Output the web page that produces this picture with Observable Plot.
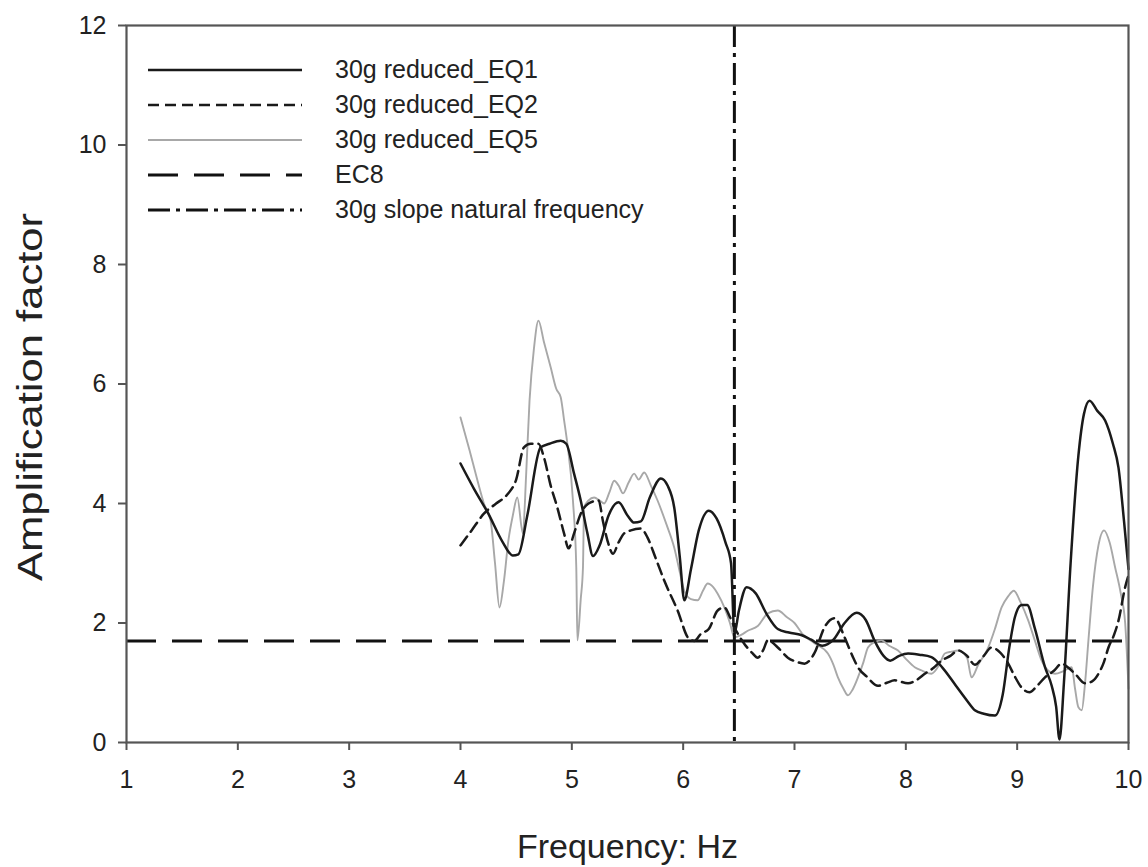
<!DOCTYPE html>
<html>
<head>
<meta charset="utf-8">
<script src="https://cdn.jsdelivr.net/npm/d3@7"></script>
<script src="https://cdn.jsdelivr.net/npm/@observablehq/plot@0.6"></script>
<style>
  html, body { margin: 0; padding: 0; background: #fff; }
  #wrap { position: relative; width: 1148px; height: 867px; }
  #wrap svg text { font-family: "Liberation Sans", Arial, sans-serif; }
  #legend { position: absolute; left: 148px; top: 52px; font-family: "Liberation Sans", Arial, sans-serif; font-size: 25px; color: #222; }
  #legend .row { display: flex; align-items: center; height: 35px; }
  #legend .row span { margin-left: 33px; }
</style>
</head>
<body>
<div id="wrap"></div>
<script>
const xTicks = [1, 2, 3, 4, 5, 6, 7, 8, 9, 10];
const yTicks = [0, 2, 4, 6, 8, 10, 12];
const seriesNames = ["30g reduced_EQ1", "30g reduced_EQ2", "30g reduced_EQ5", "EC8", "30g slope natural frequency"];
const xLabel = "Frequency: Hz";
const yLabel = "Amplification factor";

const ec8 = 1.7;
const naturalFrequency = 6.46;

const eq1 = [
[4.0,4.67],[4.12,4.25],[4.25,3.83],[4.38,3.35],[4.47,3.13],[4.52,3.15],[4.6,3.8],[4.72,4.94],[4.8,5.0],[4.9,5.05],[4.95,5.0],[5.02,4.5],[5.08,4.05],[5.14,3.5],[5.19,3.12],[5.25,3.3],[5.33,3.8],[5.42,4.02],[5.5,3.8],[5.56,3.68],[5.62,3.7],[5.7,4.1],[5.8,4.42],[5.86,4.3],[5.92,3.93],[5.97,3.1],[6.01,2.38],[6.07,2.9],[6.14,3.55],[6.23,3.88],[6.3,3.75],[6.38,3.35],[6.43,3.0],[6.46,1.82],[6.5,2.2],[6.57,2.6],[6.65,2.5],[6.75,2.15],[6.85,1.9],[6.95,1.84],[7.06,1.8],[7.15,1.72],[7.25,1.62],[7.35,1.72],[7.45,2.0],[7.56,2.17],[7.64,2.05],[7.72,1.7],[7.8,1.45],[7.86,1.37],[7.94,1.45],[8.02,1.49],[8.12,1.47],[8.23,1.43],[8.33,1.25],[8.45,0.95],[8.55,0.7],[8.62,0.54],[8.7,0.48],[8.8,0.45],[8.87,0.8],[8.93,1.6],[8.98,2.1],[9.04,2.3],[9.09,2.3],[9.16,1.9],[9.25,1.26],[9.31,0.95],[9.35,0.6],[9.38,0.05],[9.42,1.0],[9.48,3.0],[9.55,4.8],[9.6,5.5],[9.65,5.72],[9.72,5.55],[9.79,5.39],[9.86,5.0],[9.91,4.6],[9.96,3.7],[10.0,2.9]
];

const eq2 = [
[4.0,3.3],[4.1,3.55],[4.21,3.83],[4.32,4.0],[4.42,4.15],[4.5,4.4],[4.57,4.94],[4.63,5.0],[4.7,5.0],[4.75,4.77],[4.81,4.3],[4.87,3.93],[4.93,3.5],[4.97,3.25],[5.02,3.5],[5.08,3.83],[5.15,4.0],[5.24,4.05],[5.28,3.7],[5.32,3.38],[5.37,3.16],[5.42,3.35],[5.47,3.5],[5.53,3.55],[5.62,3.58],[5.68,3.43],[5.75,3.1],[5.83,2.71],[5.95,2.21],[6.05,1.74],[6.1,1.7],[6.16,1.82],[6.23,1.9],[6.31,2.21],[6.37,2.26],[6.42,2.1],[6.46,1.93],[6.55,1.65],[6.62,1.5],[6.67,1.42],[6.72,1.55],[6.76,1.71],[6.85,1.59],[6.94,1.42],[7.02,1.35],[7.09,1.32],[7.18,1.5],[7.27,1.93],[7.36,2.08],[7.45,1.76],[7.52,1.45],[7.57,1.26],[7.65,1.1],[7.75,0.95],[7.83,1.0],[7.9,1.04],[8.02,0.99],[8.1,1.05],[8.17,1.15],[8.25,1.25],[8.32,1.37],[8.4,1.45],[8.47,1.54],[8.55,1.45],[8.62,1.3],[8.7,1.45],[8.77,1.59],[8.85,1.5],[8.92,1.32],[8.98,1.1],[9.04,0.92],[9.11,0.84],[9.18,0.95],[9.25,1.09],[9.33,1.2],[9.4,1.32],[9.46,1.25],[9.52,1.15],[9.61,0.99],[9.67,1.02],[9.73,1.15],[9.78,1.35],[9.82,1.59],[9.87,1.8],[9.91,2.04],[9.97,2.6],[10.0,2.8]
];

const eq5 = [
[4.0,5.44],[4.08,4.9],[4.15,4.4],[4.21,4.0],[4.27,3.72],[4.31,3.0],[4.35,2.26],[4.39,2.7],[4.43,3.38],[4.47,3.8],[4.51,4.1],[4.56,3.5],[4.59,4.5],[4.62,5.72],[4.66,6.6],[4.7,7.06],[4.75,6.7],[4.81,6.28],[4.86,5.92],[4.9,5.78],[4.93,5.4],[4.96,5.0],[5.01,4.05],[5.04,2.93],[5.05,1.71],[5.08,2.4],[5.1,2.93],[5.11,3.93],[5.15,4.05],[5.2,4.1],[5.25,4.05],[5.29,4.0],[5.34,4.2],[5.38,4.38],[5.42,4.3],[5.46,4.17],[5.51,4.35],[5.56,4.5],[5.6,4.4],[5.65,4.52],[5.71,4.3],[5.77,4.05],[5.85,3.65],[5.92,3.26],[5.97,2.85],[6.01,2.54],[6.07,2.4],[6.13,2.38],[6.18,2.55],[6.22,2.66],[6.27,2.6],[6.31,2.49],[6.37,2.26],[6.42,2.0],[6.46,1.76],[6.52,1.8],[6.58,1.87],[6.67,1.95],[6.76,2.16],[6.85,2.21],[6.93,2.1],[7.0,2.0],[7.07,1.82],[7.18,1.66],[7.3,1.49],[7.35,1.3],[7.39,1.09],[7.44,0.9],[7.48,0.79],[7.52,0.88],[7.57,1.09],[7.62,1.35],[7.66,1.59],[7.72,1.68],[7.78,1.71],[7.85,1.62],[7.93,1.54],[8.0,1.4],[8.08,1.26],[8.15,1.2],[8.23,1.15],[8.3,1.3],[8.35,1.49],[8.41,1.52],[8.47,1.54],[8.55,1.42],[8.59,1.09],[8.65,1.3],[8.74,1.59],[8.8,1.9],[8.86,2.26],[8.92,2.45],[8.97,2.54],[9.03,2.35],[9.1,2.04],[9.16,1.7],[9.22,1.37],[9.28,1.2],[9.34,1.15],[9.42,1.2],[9.49,1.26],[9.52,0.9],[9.55,0.59],[9.58,0.54],[9.61,1.0],[9.64,1.71],[9.68,2.6],[9.73,3.3],[9.78,3.55],[9.83,3.35],[9.88,2.93],[9.93,2.5],[9.97,2.0],[10.0,0.9]
];

const styles = [
  {stroke: "#1a1a1a", strokeWidth: 2.5, dash: null},
  {stroke: "#1a1a1a", strokeWidth: 2.5, dash: "11,6"},
  {stroke: "#a8a8a8", strokeWidth: 1.9, dash: null},
  {stroke: "#111", strokeWidth: 3, dash: "30,16"},
  {stroke: "#111", strokeWidth: 3, dash: "22,6,4,6"}
];

const lineOpts = (s) => ({x: d => d[0], y: d => d[1], stroke: s.stroke, strokeWidth: s.strokeWidth, strokeDasharray: s.dash, curve: "monotone-x"});

const chart = Plot.plot({
  width: 1148,
  height: 867,
  marginLeft: 126,
  marginRight: 20,
  marginTop: 25,
  marginBottom: 125,
  style: {background: "#fff", color: "#222", overflow: "visible"},
  x: {domain: [1, 10]},
  y: {domain: [0, 12]},
  marks: [
    Plot.ruleY([ec8], {stroke: styles[3].stroke, strokeWidth: styles[3].strokeWidth, strokeDasharray: styles[3].dash}),
    Plot.line(eq5, lineOpts(styles[2])),
    Plot.line(eq2, lineOpts(styles[1])),
    Plot.line(eq1, lineOpts(styles[0])),
    Plot.ruleX([naturalFrequency], {stroke: styles[4].stroke, strokeWidth: styles[4].strokeWidth, strokeDasharray: styles[4].dash}),
    Plot.frame({stroke: "#555", strokeWidth: 2.2}),
    Plot.axisX({ticks: xTicks, tickSize: 8, tickPadding: 20, fontSize: 25, label: null, stroke: "#555", strokeWidth: 2}),
    Plot.axisY({ticks: yTicks, tickSize: 8, tickPadding: 12, fontSize: 25, label: null, stroke: "#555", strokeWidth: 2}),
    Plot.text([xLabel], {frameAnchor: "bottom", dy: 115, fontSize: 34, fill: "#222"}),
    Plot.text([yLabel], {frameAnchor: "left", dx: -96, dy: 13, rotate: -90, textAnchor: "middle", fontSize: 35, fill: "#222", className: "ylabel"})
  ]
});

const wrap = document.getElementById("wrap");
wrap.appendChild(chart);

d3.select(chart).selectAll(".ylabel text")
  .attr("textLength", 368)
  .attr("lengthAdjust", "spacingAndGlyphs");

const legend = document.createElement("div");
legend.id = "legend";
seriesNames.forEach((name, i) => {
  const s = styles[i];
  const row = document.createElement("div");
  row.className = "row";
  const svg = d3.create("svg").attr("width", 154).attr("height", 10);
  svg.append("line").attr("x1", 0).attr("x2", 154).attr("y1", 5).attr("y2", 5)
    .attr("stroke", s.stroke).attr("stroke-width", s.strokeWidth)
    .attr("stroke-dasharray", s.dash);
  row.appendChild(svg.node());
  const t = document.createElement("span");
  t.textContent = name;
  row.appendChild(t);
  legend.appendChild(row);
});
wrap.appendChild(legend);
</script>
</body>
</html>
